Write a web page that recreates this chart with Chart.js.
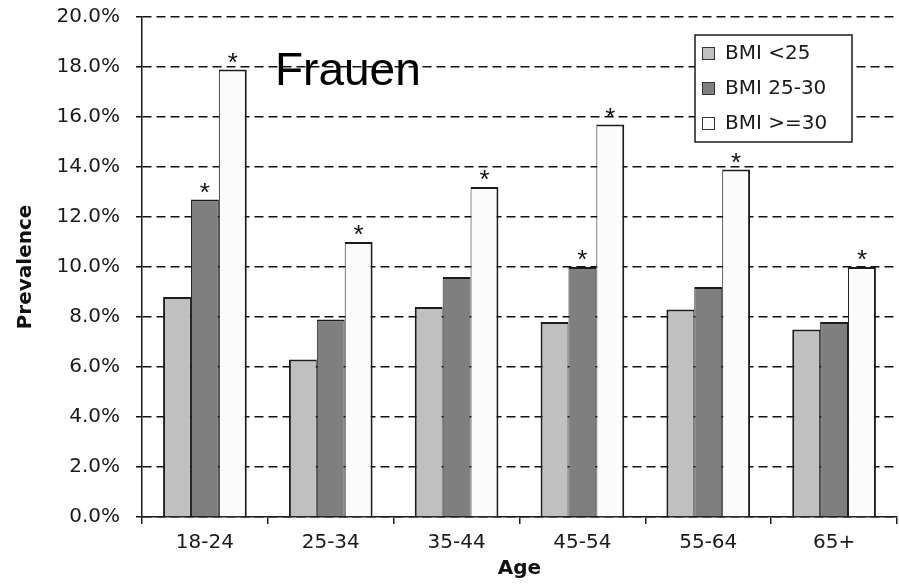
<!DOCTYPE html>
<html>
<head>
<meta charset="utf-8">
<title>Prevalence by age and BMI</title>
<script src="https://cdn.jsdelivr.net/npm/chart.js@4.4.1/dist/chart.umd.min.js"></script>
<style>
    html, body { margin: 0; padding: 0; background: #fff; }
    #wrap { width: 899px; height: 587px; }
</style>
</head>
<body>
<div id="wrap"><canvas id="barChart" width="899" height="587"></canvas></div>
<script>
var ageGroups = ['18-24', '25-34', '35-44', '45-54', '55-64', '65+'];
var seriesLabels = ['BMI <25', 'BMI 25-30', 'BMI >=30'];

// prevalence in percent
var bmiUnder25 = [8.8, 6.3, 8.4, 7.8, 8.3, 7.5];
var bmi25to30 = [12.7, 7.9, 9.6, 10.0, 9.2, 7.8];
var bmiOver30 = [17.9, 11.0, 13.2, 15.7, 13.9, 10.0];

// significant vs. BMI <25 (marked with a star)
var sigUnder25 = [false, false, false, false, false, false];
var sig25to30 = [true, false, false, true, false, false];
var sigOver30 = [true, true, true, true, true, true];

var yMin = 0, yMax = 20, yStep = 2;

var colors = ['#c0c0c0', '#7f7f7f', '#fbfbfb'];
var edge = '#1c1c1c';
var tickFont = { family: '"DejaVu Sans"', size: 20 };
var titleFont = { family: '"DejaVu Sans"', size: 20, weight: 'bold' };

var sigFlags = [sigUnder25, sig25to30, sigOver30];

// star above every significant bar
var starPlugin = {
    id: 'stars',
    afterDatasetsDraw: function (chart) {
        var ctx = chart.ctx;
        ctx.save();
        ctx.font = '26px "Liberation Sans"';
        ctx.textAlign = 'center';
        ctx.textBaseline = 'alphabetic';
        ctx.fillStyle = '#111';
        chart.data.datasets.forEach(function (ds, i) {
            chart.getDatasetMeta(i).data.forEach(function (bar, j) {
                if (sigFlags[i][j]) ctx.fillText('*', bar.x, bar.y + 1);
            });
        });
        ctx.restore();
    }
};

// boxed legend in the upper right plus the "Frauen" caption
var boxLegend = {
    id: 'boxLegend',
    afterDraw: function (chart) {
        var ctx = chart.ctx;
        var area = chart.chartArea;
        var w = 157, h = 107;
        var x = area.right - 202, y = area.top + 18;
        ctx.save();
        ctx.fillStyle = '#fff';
        ctx.fillRect(x, y, w, h);
        ctx.lineWidth = 1.5;
        ctx.strokeStyle = edge;
        ctx.strokeRect(x, y, w, h);

        ctx.font = '20px "DejaVu Sans"';
        ctx.textBaseline = 'middle';
        ctx.textAlign = 'left';
        chart.data.datasets.forEach(function (ds, i) {
            var cy = y + 18 + i * 35;
            ctx.fillStyle = ds.backgroundColor;
            ctx.fillRect(x + 7, cy - 6, 12, 12);
            ctx.lineWidth = 1;
            ctx.strokeStyle = '#333';
            ctx.strokeRect(x + 7.5, cy - 5.5, 12, 12);
            ctx.fillStyle = '#1a1a1a';
            ctx.fillText(ds.label, x + 30, cy + 1);
        });

        ctx.fillStyle = '#000';
        ctx.font = '46px "Liberation Sans"';
        ctx.textBaseline = 'alphabetic';
        ctx.fillText('Frauen', area.left + 133, area.top + 68);
        ctx.restore();
    }
};

var ctx = document.getElementById('barChart').getContext('2d');
var barChart = new Chart(ctx, {
    type: 'bar',
    data: {
        labels: ageGroups,
        datasets: [
            {
                label: seriesLabels[0],
                data: bmiUnder25,
                backgroundColor: colors[0],
                borderColor: edge,
                borderWidth: { left: 2, right: 1, top: 2, bottom: 0 }
            },
            {
                label: seriesLabels[1],
                data: bmi25to30,
                backgroundColor: colors[1],
                borderColor: edge,
                borderWidth: { left: 1, right: 1, top: 2, bottom: 0 }
            },
            {
                label: seriesLabels[2],
                data: bmiOver30,
                backgroundColor: colors[2],
                borderColor: edge,
                borderWidth: { left: 1, right: 2, top: 2, bottom: 0 }
            }
        ]
    },
    options: {
        responsive: false,
        animation: false,
        layout: { padding: { top: 17, right: 2, left: 0, bottom: 0 } },
        datasets: {
            bar: { categoryPercentage: 0.665, barPercentage: 1.0, borderSkipped: 'start' }
        },
        plugins: {
            legend: { display: false },
            tooltip: { enabled: false }
        },
        scales: {
            x: {
                grid: {
                    display: true,
                    drawOnChartArea: false,
                    color: edge,
                    lineWidth: 1.5,
                    tickLength: 7
                },
                border: { display: true, color: edge, width: 1.5 },
                ticks: { color: '#1a1a1a', font: tickFont, padding: 7 },
                title: {
                    display: true,
                    text: 'Age',
                    color: '#111',
                    font: titleFont,
                    padding: { top: 0, bottom: 6 }
                },
                afterFit: function (scale) { scale.height = 70; }
            },
            y: {
                min: yMin,
                max: yMax,
                grid: {
                    color: '#111',
                    lineWidth: 1.5,
                    tickLength: 6,
                    tickBorderDash: []
                },
                border: { display: true, color: edge, width: 1.5, dash: [9, 5] },
                ticks: {
                    stepSize: yStep,
                    color: '#1a1a1a',
                    font: tickFont,
                    padding: 16,
                    callback: function (v) { return v.toFixed(1) + '%'; }
                },
                title: {
                    display: true,
                    text: 'Prevalence',
                    color: '#111',
                    font: titleFont,
                    padding: { top: 14, bottom: 0 }
                },
                afterFit: function (scale) {
                    scale.width = 142;
                    // the label padding should not push the plot down
                    scale.paddingTop = 12;
                    scale.paddingBottom = 12;
                }
            }
        }
    },
    plugins: [starPlugin, boxLegend]
});
</script>
</body>
</html>
